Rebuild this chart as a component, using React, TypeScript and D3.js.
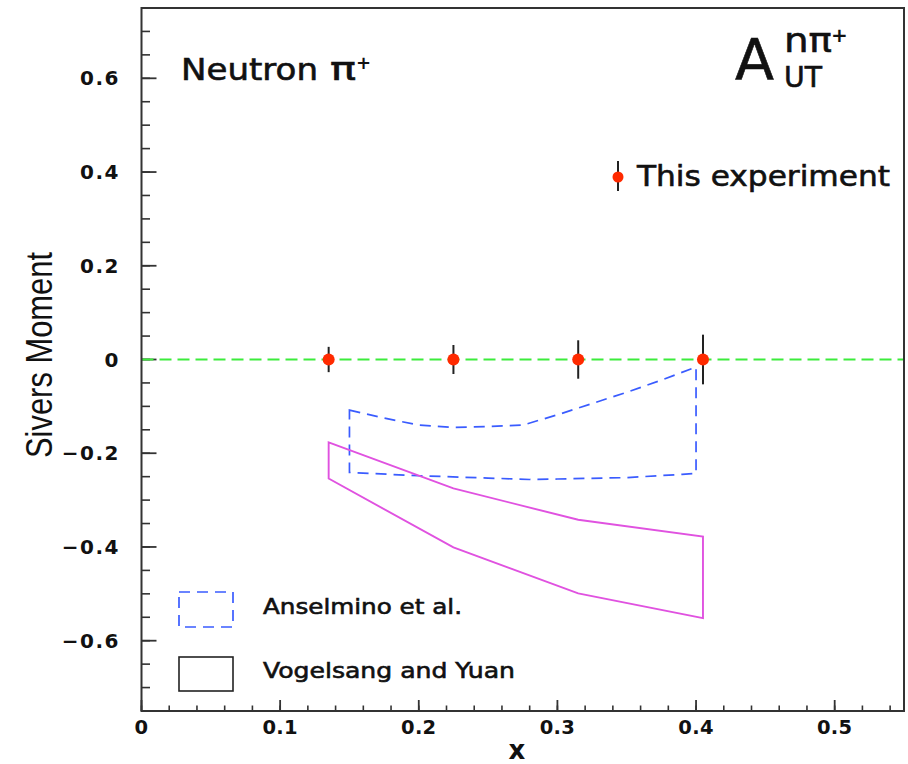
import React from 'react';
import * as d3 from 'd3';

// measured points (This experiment)
const expX = [0.135, 0.225, 0.315, 0.405];
const expY = [0, 0, 0, 0];
const expErr = [0.027, 0.031, 0.041, 0.053];

// Anselmino et al. band (dashed)
const ansUpperX = [0.15, 0.175, 0.2, 0.225, 0.25, 0.275, 0.3, 0.325, 0.35, 0.375, 0.4];
const ansUpperY = [-0.108, -0.125, -0.140, -0.145, -0.143, -0.140, -0.118, -0.094, -0.070, -0.044, -0.016];
const ansLowerX = [0.15, 0.2, 0.25, 0.28, 0.3, 0.35, 0.39, 0.4];
const ansLowerY = [-0.241, -0.248, -0.253, -0.256, -0.255, -0.252, -0.245, -0.243];

// Vogelsang and Yuan band (solid)
const vyX = [0.135, 0.225, 0.315, 0.405];
const vyUpper = [-0.177, -0.275, -0.342, -0.378];
const vyLower = [-0.254, -0.401, -0.499, -0.552];

const xTicks = [0, 0.1, 0.2, 0.3, 0.4, 0.5];
const xTickLabels = ['0', '0.1', '0.2', '0.3', '0.4', '0.5'];
const yTicks = [-0.6, -0.4, -0.2, 0, 0.2, 0.4, 0.6];
const yTickLabels = ['\u22120.6', '\u22120.4', '\u22120.2', '0', '0.2', '0.4', '0.6'];

const W = 908;
const H = 764;
const font = '"DejaVu Sans", sans-serif';
const ink = '#111';

const App = () => {
  const x = d3.scaleLinear().domain([0, 0.55]).range([141.5, 904]);
  const y = d3.scaleLinear().domain([-0.75, 0.75]).range([711, 8]);

  const line = d3.line<[number, number]>().x(d => x(d[0])).y(d => y(d[1]));

  // closed outline: upper left->right, then lower right->left
  const ansPts: [number, number][] = [
    ...ansUpperX.map((v, i) => [v, ansUpperY[i]] as [number, number]),
    ...ansLowerX.map((v, i) => [v, ansLowerY[i]] as [number, number]).reverse(),
  ];
  const vyPts: [number, number][] = [
    ...vyX.map((v, i) => [v, vyUpper[i]] as [number, number]),
    ...vyX.map((v, i) => [v, vyLower[i]] as [number, number]).reverse(),
  ];

  const xMinor = d3.range(0, 0.5401, 0.02);
  const yMinor = d3.range(-0.75, 0.7501, 0.05);
  const [x0] = x.range();
  const [yb, yt] = y.range();

  // slight outline to mimic the heavier original glyphs
  const heavy = { stroke: ink, strokeWidth: 0.6 };

  return (
    <svg width={W} height={H} style={{ position: 'absolute', left: 0, top: 0, background: '#fff' }}>
      {/* minor ticks */}
      {yMinor.map((t, i) => (
        <line key={'ym' + i} x1={x0} x2={x0 + 8.5} y1={y(t)} y2={y(t)} stroke="#333" strokeWidth={1.6} />
      ))}
      {yTicks.map((t, i) => (
        <line key={'yM' + i} x1={x0} x2={x0 + 15} y1={y(t)} y2={y(t)} stroke="#333" strokeWidth={1.8} />
      ))}
      {xMinor.map((t, i) => (
        <line key={'xm' + i} x1={x(t)} x2={x(t)} y1={yb} y2={yb - 5.5} stroke="#333" strokeWidth={1.6} />
      ))}
      {xTicks.map((t, i) => (
        <line key={'xM' + i} x1={x(t)} x2={x(t)} y1={yb} y2={yb - 11} stroke="#333" strokeWidth={1.8} />
      ))}

      {/* zero line */}
      <line x1={x0} x2={x(0.55)} y1={y(0)} y2={y(0)} stroke="#3cec3c" strokeWidth={2} strokeDasharray="12,6" />

      {/* theory bands */}
      <path d={line(ansPts) + 'Z'} fill="none" stroke="#3a5cff" strokeWidth={1.7} strokeDasharray="11,7" />
      <path d={line(vyPts) + 'Z'} fill="none" stroke="#e052e0" strokeWidth={1.9} />

      {/* data points */}
      {expX.map((v, i) => (
        <g key={'p' + i}>
          <line x1={x(v)} x2={x(v)} y1={y(expY[i] + expErr[i])} y2={y(expY[i] - expErr[i])} stroke="#222" strokeWidth={2} />
          <circle cx={x(v)} cy={y(expY[i])} r={6} fill="#ff2a00" />
        </g>
      ))}

      {/* frame */}
      <rect x={x0} y={yt} width={x(0.55) - x0} height={yb - yt} fill="none" stroke="#333" strokeWidth={2} />

      {/* tick labels */}
      {yTicks.map((t, i) => (
        <text key={'yl' + i} x={120} y={y(t) + 7} textAnchor="end" fontFamily={font} fontWeight="bold" fontSize={20} letterSpacing={1.5} fill={ink}>
          {yTickLabels[i]}
        </text>
      ))}
      {xTicks.map((t, i) => (
        <text key={'xl' + i} x={x(t)} y={734} textAnchor="middle" fontFamily={font} fontWeight="bold" fontSize={19.5} letterSpacing={0.3} fill={ink}>
          {xTickLabels[i]}
        </text>
      ))}

      {/* axis titles */}
      <text transform="translate(52,355) rotate(-90)" textAnchor="middle" fontFamily='"Liberation Sans", Arial, sans-serif' fontSize={37} textLength={206} lengthAdjust="spacingAndGlyphs" fill={ink}>
        Sivers Moment
      </text>
      <text x={517} y={759} textAnchor="middle" fontFamily={font} fontWeight="bold" fontSize={26} fill={ink}>x</text>

      {/* labels */}
      <text x={181} y={80} fontFamily={font} fontSize={30} textLength={137} lengthAdjust="spacingAndGlyphs" fill={ink} {...heavy}>Neutron</text>
      <text x={330} y={80} fontFamily={font} fontSize={32} textLength={26} lengthAdjust="spacingAndGlyphs" fill={ink} {...heavy}>π</text>
      <text x={356} y={69} fontFamily={font} fontSize={18} fontWeight="bold" fill={ink}>+</text>

      <text x={735} y={80} fontFamily={font} fontSize={57} fill={ink} {...heavy}>A</text>
      <text x={784} y={52} fontFamily={font} fontSize={34} textLength={48} lengthAdjust="spacingAndGlyphs" fill={ink} {...heavy}>nπ</text>
      <text x={831} y={42} fontFamily={font} fontSize={20} fontWeight="bold" fill={ink}>+</text>
      <text x={784} y={87} fontFamily={font} fontSize={28} textLength={38} lengthAdjust="spacingAndGlyphs" fill={ink} {...heavy}>UT</text>

      {/* legend */}
      <line x1={618} x2={618} y1={161} y2={191} stroke="#222" strokeWidth={2} />
      <circle cx={618} cy={177} r={5.5} fill="#ff2a00" />
      <text x={637} y={186} fontFamily={font} fontSize={28} textLength={253} lengthAdjust="spacingAndGlyphs" fill={ink} {...heavy}>This experiment</text>

      <rect x={179} y={592} width={54} height={35} fill="none" stroke="#3a5cff" strokeWidth={1.7} strokeDasharray="11,7" />
      <text x={263} y={614} fontFamily={font} fontSize={21} textLength={199} lengthAdjust="spacingAndGlyphs" fill={ink} {...heavy}>Anselmino et al.</text>
      <rect x={179} y={657} width={54} height={34} fill="none" stroke="#222" strokeWidth={1.6} />
      <text x={263} y={678} fontFamily={font} fontSize={21} textLength={252} lengthAdjust="spacingAndGlyphs" fill={ink} {...heavy}>Vogelsang and Yuan</text>
    </svg>
  );
};

export default App;
